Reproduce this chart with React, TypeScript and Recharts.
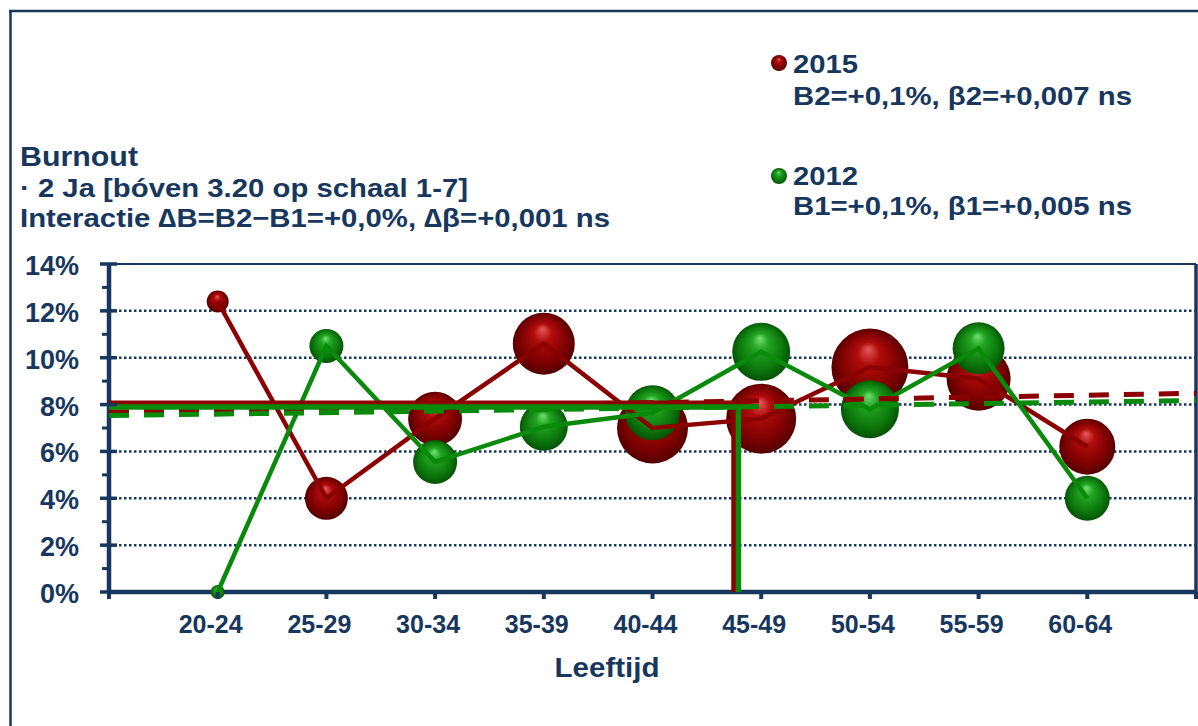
import {
  CartesianGrid, ComposedChart, ReferenceLine, Scatter, XAxis, YAxis, ZAxis,
} from 'recharts'

const NAVY = '#17375E'
const RED = '#8B0000'
const GREEN = '#0A8A0A'
const FONT = '"Liberation Sans", Arial, sans-serif'

// age groups sit at x = 1..9, axis runs 0..10
const AGE_GROUPS = ['20-24', '25-29', '30-34', '35-39', '40-44', '45-49', '50-54', '55-59', '60-64']
const X_TICKS = [0, 1, 2, 3, 4, 5, 6, 7, 8, 9, 10]
const Y_TICKS = [0, 1, 2, 3, 4, 5, 6, 7, 8, 9, 10, 11, 12, 13, 14]
const GRID_VALUES = [2, 4, 6, 8, 10, 12]

// % burnout per age group
const PCT_2015 = [12.4, 4.0, 7.4, 10.6, 7.0, 7.4, 9.6, 9.1, 6.2]
const PCT_2012 = [0, 10.5, 5.55, 7.05, 7.65, 10.25, 7.8, 10.4, 4.0]
// group sizes (bubble area)
const N_2015 = [121, 462, 729, 961, 1260, 1225, 1480, 1024, 784]
const N_2012 = [49, 289, 484, 576, 756, 841, 841, 676, 506]

// overall mean (%), mean age position, regression line ends (x=0 and x=10)
const MEAN_2015 = 8.06
const MEAN_2012 = 7.9
const MEAN_AGE_2015 = 5.75
const MEAN_AGE_2012 = 5.79
const TREND_2015 = [7.68, 8.48]
const TREND_2012 = [7.53, 8.17]

const toPoints = (vals: number[], ns: number[]) =>
  vals.map((y, i) => ({ x: i + 1, y, n: ns[i], label: AGE_GROUPS[i] }))

const data2015 = toPoints(PCT_2015, N_2015)
const data2012 = toPoints(PCT_2012, N_2012)

const meanPath = (mean: number, age: number) => [
  { x: 0, y: mean }, { x: age, y: mean }, { x: age, y: 0 },
]
const trendPath = (ends: number[]) => [{ x: 0, y: ends[0] }, { x: 10, y: ends[1] }]

const Y_TICK_SIZE = 8
const Y_TICK_MARGIN = 22

function YTick(props: any) {
  const { x, y, payload } = props
  const ax = x + Y_TICK_SIZE + Y_TICK_MARGIN
  const major = payload.value % 2 === 0
  return (
    <g>
      {major ? (
        <line x1={ax - 9} x2={ax + 8} y1={y} y2={y} stroke={NAVY} strokeWidth={3.5} />
      ) : (
        <line x1={ax - 7} x2={ax} y1={y} y2={y} stroke={NAVY} strokeWidth={3} />
      )}
      {major && (
        <text x={x} y={y + 11} textAnchor="end" fontSize={27} fontWeight="bold" fill={NAVY} fontFamily={FONT}>
          {payload.value}%
        </text>
      )}
    </g>
  )
}

function XTick(props: any) {
  const { x, y, payload } = props
  const v = payload.value
  const label = v >= 1 && v <= 9 ? AGE_GROUPS[v - 1] : ''
  return (
    <g>
      <line x1={x} x2={x} y1={y - 8} y2={y - 1} stroke={NAVY} strokeWidth={4} />
      {label && (
        <text x={x - 7} y={y + 33} textAnchor="middle" fontSize={25} fontWeight="bold" fill={NAVY} fontFamily={FONT}>
          {label}
        </text>
      )}
    </g>
  )
}

const Bubble = (grad: string) => (props: any) => {
  const { cx, cy, width, size } = props
  const r = width ? width / 2 : Math.sqrt((size || 0) / Math.PI)
  return <circle cx={cx} cy={cy} r={r} fill={`url(#${grad})`} />
}

const NoShape = () => <g />

function Gradients() {
  return (
    <defs>
      <radialGradient id="gRed" cx="50%" cy="50%" r="52%" fx="48%" fy="26%">
        <stop offset="0%" stopColor="#E65A5A" />
        <stop offset="28%" stopColor="#B00C0C" />
        <stop offset="72%" stopColor="#7C0000" />
        <stop offset="100%" stopColor="#500000" />
      </radialGradient>
      <radialGradient id="gGreen" cx="50%" cy="50%" r="52%" fx="48%" fy="26%">
        <stop offset="0%" stopColor="#72E272" />
        <stop offset="28%" stopColor="#22A422" />
        <stop offset="72%" stopColor="#0B780B" />
        <stop offset="100%" stopColor="#064E06" />
      </radialGradient>
    </defs>
  )
}

function Overlay() {
  const t = { fontFamily: FONT, fontWeight: 'bold' as const, fill: NAVY }
  return (
    <svg width={1198} height={726} style={{ position: 'absolute', left: 0, top: 0, pointerEvents: 'none' }}>
      <Gradients />
      <line x1={9} x2={1198} y1={11} y2={11} stroke={NAVY} strokeWidth={2.5} />
      <line x1={10.5} x2={10.5} y1={10} y2={726} stroke={NAVY} strokeWidth={2.5} />

      <text x={20} y={166} fontSize={27} textLength={118} lengthAdjust="spacingAndGlyphs" {...t}>Burnout</text>
      <text x={20} y={197} fontSize={26} textLength={448} lengthAdjust="spacingAndGlyphs" {...t}>· 2 Ja [bóven 3.20 op schaal 1-7]</text>
      <text x={20} y={227} fontSize={26} textLength={590} lengthAdjust="spacingAndGlyphs" {...t}>Interactie ∆B=B2−B1=+0,0%, ∆β=+0,001 ns</text>

      <circle cx={779} cy={63} r={8} fill="url(#gRed)" />
      <text x={793} y={73} fontSize={25} textLength={65} lengthAdjust="spacingAndGlyphs" {...t}>2015</text>
      <text x={793} y={105} fontSize={25} textLength={339} lengthAdjust="spacingAndGlyphs" {...t}>B2=+0,1%,  β2=+0,007 ns</text>
      <circle cx={779} cy={176} r={8} fill="url(#gGreen)" />
      <text x={793} y={185} fontSize={25} textLength={65} lengthAdjust="spacingAndGlyphs" {...t}>2012</text>
      <text x={793} y={215} fontSize={25} textLength={339} lengthAdjust="spacingAndGlyphs" {...t}>B1=+0,1%,  β1=+0,005 ns</text>

      <text x={607} y={677} fontSize={28} textAnchor="middle" textLength={105} lengthAdjust="spacingAndGlyphs" {...t}>Leeftijd</text>
    </svg>
  )
}

export default function App() {
  return (
    <div style={{ position: 'absolute', left: 0, top: 0, width: 1198, height: 726, background: '#fff' }}>
      <ComposedChart width={1198} height={726} margin={{ top: 264, right: 2, left: 0, bottom: 74 }}>
        <Gradients />
        <CartesianGrid vertical={false} horizontalValues={GRID_VALUES} stroke={NAVY} strokeWidth={2.5} strokeDasharray="2.5 2.5" />
        <XAxis
          type="number" dataKey="x" domain={[0, 10]} ticks={X_TICKS} interval={0} stroke={NAVY}
          axisLine={{ stroke: NAVY, strokeWidth: 4.5 }} tickLine={false} tick={<XTick />} height={60}
        />
        <YAxis
          type="number" domain={[0, 14]} ticks={Y_TICKS} interval={0} width={109} stroke={NAVY}
          tickSize={Y_TICK_SIZE} tickMargin={Y_TICK_MARGIN}
          axisLine={{ stroke: NAVY, strokeWidth: 4.5 }} tickLine={false} tick={<YTick />}
        />
        <ZAxis type="number" dataKey="n" domain={[0, 1600]} range={[0, 1600 * Math.PI]} />
        <ReferenceLine y={14} stroke={NAVY} strokeWidth={2} />
        <ReferenceLine x={10} stroke={NAVY} strokeWidth={3.5} />

        <Scatter data={data2015} dataKey="y" shape={Bubble('gRed')} isAnimationActive={false} />
        <Scatter data={data2012} dataKey="y" shape={Bubble('gGreen')} isAnimationActive={false} />
        <Scatter data={data2015} dataKey="y" shape={NoShape} line={{ stroke: RED, strokeWidth: 4.5 }} isAnimationActive={false} />
        <Scatter data={data2012} dataKey="y" shape={NoShape} line={{ stroke: GREEN, strokeWidth: 4.5 }} isAnimationActive={false} />

        <Scatter data={trendPath(TREND_2015)} dataKey="y" shape={NoShape} line={{ stroke: RED, strokeWidth: 5, strokeDasharray: '20 15' }} isAnimationActive={false} />
        <Scatter data={trendPath(TREND_2012)} dataKey="y" shape={NoShape} line={{ stroke: GREEN, strokeWidth: 5, strokeDasharray: '20 15' }} isAnimationActive={false} />
        <Scatter data={meanPath(MEAN_2015, MEAN_AGE_2015)} dataKey="y" shape={NoShape} line={{ stroke: RED, strokeWidth: 5.5 }} isAnimationActive={false} />
        <Scatter data={meanPath(MEAN_2012, MEAN_AGE_2012)} dataKey="y" shape={NoShape} line={{ stroke: GREEN, strokeWidth: 5.5 }} isAnimationActive={false} />
      </ComposedChart>
      <Overlay />
    </div>
  )
}
